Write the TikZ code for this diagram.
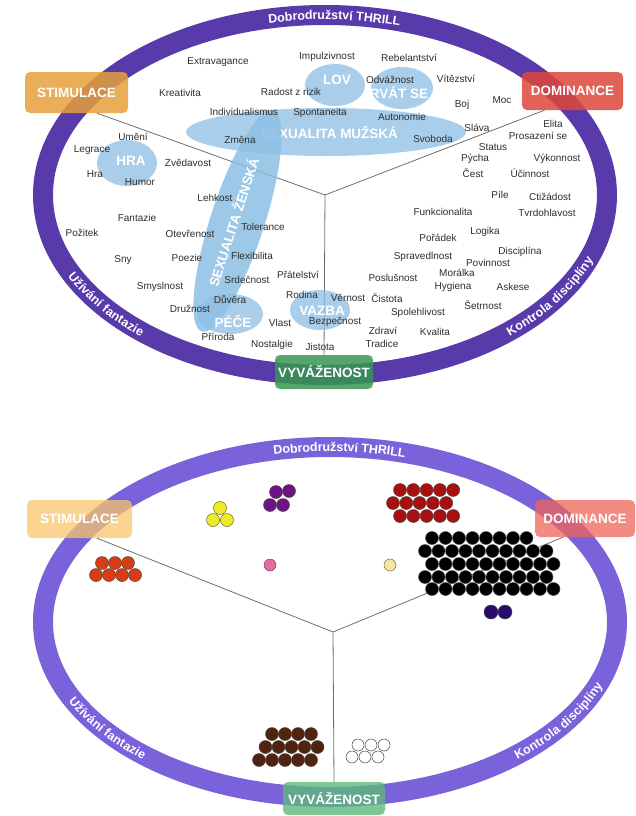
\documentclass[tikz,border=0pt]{standalone}
\usepackage{fontspec}
\setmainfont{Liberation Sans}
\usetikzlibrary{decorations.text}

\definecolor{ringtop}{RGB}{88,58,170}
\definecolor{ringbot}{RGB}{122,98,218}
\definecolor{stimtopc}{RGB}{230,160,60}
\definecolor{domtopc}{RGB}{222,70,58}
\definecolor{vyvtopc}{RGB}{55,150,80}
\definecolor{stimbotc}{RGB}{248,198,108}
\definecolor{dombotc}{RGB}{240,100,90}
\definecolor{vyvbotc}{RGB}{95,185,125}
\definecolor{blobblue}{RGB}{140,190,228}
\definecolor{wordgray}{RGB}{45,45,45}
\definecolor{linegray}{RGB}{110,110,110}

\begin{document}
\begin{tikzpicture}[x=1pt,y=-1pt,
    ring/.style={line width=20pt},
    ringtext/.style={decorate,decoration={text along path,text align=center,raise=-4.5pt,text color=white,
        text={|\fontsize{12.5}{13}\selectfont\bfseries|#1}}},
    catbox/.style={rectangle,rounded corners=5pt,inner sep=0pt,text=white,
        font=\fontsize{13.5}{14}\selectfont\bfseries,fill opacity=0.85,text opacity=1},
    blob/.style={fill=blobblue,fill opacity=0.75},
    bloblabel/.style={text=white,inner sep=0pt,font=\fontsize{13.5}{14}\selectfont\bfseries},
    word/.style={text=wordgray,inner sep=0pt,font=\fontsize{10}{11}\selectfont},
    divline/.style={draw=linegray,line width=0.8pt},
    dot/.style={draw=black!70,line width=0.5pt}]

  \useasboundingbox (0,0) rectangle (636,816);

  % upper picture: values
  \coordinate (ctrtop) at (325,195);
  \draw[ring,draw=ringtop] (ctrtop) ellipse [x radius=282,y radius=180];
  \path[ringtext={Dobrodružství THRILL}] (ctrtop) ++(250:282 and 180) arc[start angle=250,end angle=294,x radius=282,y radius=180];
  \path[ringtext={Užívání fantazie}] (ctrtop) ++(162:282 and 180) arc[start angle=162,end angle=124,x radius=282,y radius=180];
  \path[ringtext={Kontrola disciplíny}] (ctrtop) ++(56:282 and 180) arc[start angle=56,end angle=12,x radius=282,y radius=180];

  \node[catbox,fill=stimtopc,minimum width=103pt,minimum height=41pt] (stimtop) at (76.5,92.5) {STIMULACE};
  \node[catbox,fill=domtopc,minimum width=101pt,minimum height=38pt] (domtop) at (572.5,91) {DOMINANCE};
  \node[catbox,fill=vyvtopc,minimum width=98pt,minimum height=34pt] (vyvtop) at (324,372) {VYVÁŽENOST};

  \draw[divline] (ctrtop) -- ([xshift=20.5pt]stimtop.south);
  \draw[divline] (ctrtop) -- ([xshift=-28pt]domtop.south);
  \draw[divline] (ctrtop) -- (vyvtop.north);

  \fill[blob] (326,132) ellipse [x radius=140,y radius=24];
  \node[bloblabel] (muz) at (329.5,133) {SEXUALITA MUŽSKÁ};
  \fill[blob,fill opacity=0.85,rotate around={72:(237.5,221)}] (237.5,221) ellipse [x radius=116,y radius=27];
  \node[bloblabel,rotate=72] (zen) at (233,222) {SEXUALITA ŽENSKÁ};
  \fill[blob] (127,163) ellipse [x radius=30,y radius=23];
  \node[bloblabel] (hra) at (131,161) {HRA};
  \fill[blob] (335,85) ellipse [x radius=30,y radius=21];
  \node[bloblabel] (lov) at (337,80) {LOV};
  \fill[blob] (402,88) ellipse [x radius=31,y radius=21];
  \node[bloblabel] (rvat) at (399,93) {RVÁT SE};
  \fill[blob] (230,314) ellipse [x radius=33,y radius=20];
  \node[bloblabel] (pece) at (233,322) {PÉČE};
  \fill[blob] (320,310) ellipse [x radius=30,y radius=20];
  \node[bloblabel] (vazba) at (322,311) {VAZBA};

  \foreach \x/\y/\t [count=\i] in {218/62/Extravagance, 327/57/Impulzivnost, 409/58/Rebelantství,
      180/93/Kreativita, 291/92/Radost z rizik, 390/80/Odvážnost, 456/79/Vítězství, 462/105/Boj,
      502/100/Moc, 244/112/Individualismus, 320/113/Spontaneita, 402/117/Autonomie, 433/139/Svoboda,
      240/140/Změna, 477/128/Sláva, 553/124/Elita, 538/136/Prosazení se, 493/147/Status,
      475/159/Pýcha, 557/159/Výkonnost, 473/173/Čest, 530/173/Účinnost, 133/137/Umění,
      92/150/Legrace, 188/163/Zvědavost, 95/174/Hra, 140/182/Humor, 215/198/Lehkost,
      500/195/Píle, 550/197/Ctižádost, 443/212/Funkcionalita, 547/213/Tvrdohlavost,
      137/218/Fantazie, 263/227/Tolerance, 485/232/Logika, 82/233/Požitek, 190/234/Otevřenost,
      438/238/Pořádek, 520/252/Disciplína, 423/257/Spravedlnost, 252/256/Flexibilita,
      187/258/Poezie, 123/260/Sny, 488/263/Povinnost, 457/273/Morálka, 298/275/Přátelství,
      247/280/Srdečnost, 393/278/Poslušnost, 160/287/Smyslnost, 453/287/Hygiena, 513/287/Askese,
      302/295/Rodina, 348/298/Věrnost, 387/298/Čistota, 230/300/Důvěra, 483/305/Šetrnost,
      190/309/Družnost, 418/313/Spolehlivost, 280/323/Vlast, 335/322/Bezpečnost, 383/331/Zdraví,
      435/332/Kvalita, 218/337/Příroda, 272/345/Nostalgie, 320/347/Jistota, 382/344/Tradice}
    \node[word] (w\i) at (\x,\y) {\t};

  % lower picture: dots
  \coordinate (ctrbot) at (330,622);
  \draw[ring,draw=ringbot] (ctrbot) ellipse [x radius=287,y radius=175];
  \path[ringtext={Dobrodružství THRILL}] (ctrbot) ++(250:287 and 175) arc[start angle=250,end angle=294,x radius=287,y radius=175];
  \path[ringtext={Užívání fantazie}] (ctrbot) ++(162:287 and 175) arc[start angle=162,end angle=124,x radius=287,y radius=175];
  \path[ringtext={Kontrola disciplíny}] (ctrbot) ++(56:287 and 175) arc[start angle=56,end angle=12,x radius=287,y radius=175];

  \node[catbox,fill=stimbotc,fill opacity=0.75,minimum width=105pt,minimum height=38pt] (stimbot) at (79.5,519) {STIMULACE};
  \node[catbox,fill=dombotc,fill opacity=0.75,minimum width=100pt,minimum height=37pt] (dombot) at (585,518.5) {DOMINANCE};
  \node[catbox,fill=vyvbotc,fill opacity=0.8,minimum width=102pt,minimum height=33pt] (vyvbot) at (334,798.5) {VYVÁŽENOST};

  \coordinate (hubbot) at (333,632);
  \draw[divline] (hubbot) -- ([xshift=17.5pt]stimbot.south);
  \draw[divline] (hubbot) -- ([xshift=-22pt]dombot.south);
  \draw[divline] (hubbot) -- (vyvbot.north);

  \foreach \r/\xs/\n in {563/102/3, 575/96/4}
    \foreach \k in {1,...,\n} \filldraw[dot,fill={rgb,255:red,215;green,60;blue,20}] (\xs+13*\k-13,\r) circle (6.5);
  \foreach \p in {(220,508),(213,520),(227,520)}
    \filldraw[dot,draw={rgb,255:red,110;green,100;blue,20},fill={rgb,255:red,238;green,236;blue,40}] \p circle (6.5);
  \foreach \p in {(276,492),(289,491),(270,505),(283,505)}
    \filldraw[dot,fill={rgb,255:red,110;green,20;blue,130}] \p circle (6.5);
  \filldraw[dot,draw={rgb,255:red,150;green,50;blue,100},fill={rgb,255:red,222;green,110;blue,160}] (270,565) circle (6);
  \filldraw[dot,draw={rgb,255:red,120;green,100;blue,60},fill={rgb,255:red,245;green,230;blue,160}] (390,565) circle (6);
  \foreach \r/\xs/\n in {490/400/5, 503/393/5, 516/400/5}
    \foreach \k in {1,...,\n} \filldraw[dot,fill={rgb,255:red,170;green,15;blue,15}] (\xs+13.3*\k-13.3,\r) circle (6.5);
  \foreach \r/\xs/\n in {538/432/8, 551/425/10, 564/432/10, 577/425/10, 589/432/10}
    \foreach \k in {1,...,\n} \filldraw[dot,fill=black] (\xs+13.5*\k-13.5,\r) circle (6.5);
  \foreach \p in {(491,612),(505,612)}
    \filldraw[dot,fill={rgb,255:red,40;green,10;blue,110}] \p circle (7);
  \foreach \r/\xs/\n in {734/272/4, 747/265.5/5, 760/259/5}
    \foreach \k in {1,...,\n} \filldraw[dot,fill={rgb,255:red,80;green,35;blue,15}] (\xs+13*\k-13,\r) circle (6.5);
  \foreach \r/\xs/\n in {745/358/3, 757/352/3}
    \foreach \k in {1,...,\n} \filldraw[dot,draw=black!75,fill=white] (\xs+13*\k-13,\r) circle (6);

\end{tikzpicture}
\end{document}
